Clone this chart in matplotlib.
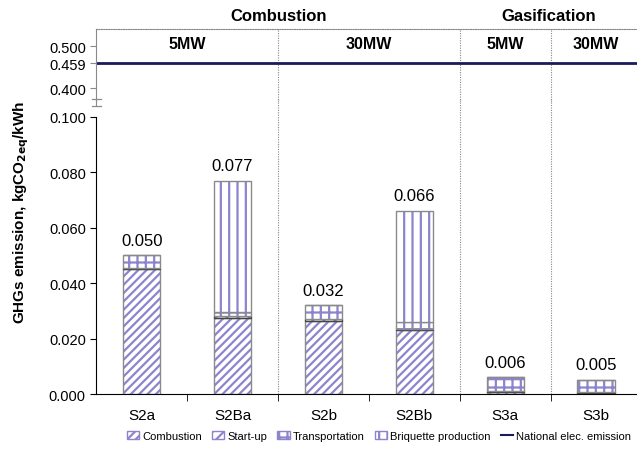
import numpy as np
import matplotlib
matplotlib.use("Agg")
import matplotlib.pyplot as plt
from matplotlib.patches import Patch
from matplotlib.lines import Line2D

# ==========================================================
# Data
# ==========================================================

scenarios = ["S2a", "S2Ba", "S2b", "S2Bb", "S3a", "S3b"]

combustion = [0.0450, 0.0275, 0.0265, 0.0230, 0.0008, 0.0005]
startup = [0.0005, 0.0005, 0.0005, 0.0005, 0.0002, 0.0002]
transport = [0.0045, 0.0015, 0.0050, 0.0025, 0.0050, 0.0043]
briquette = [0.0, 0.0475, 0.0, 0.0400, 0.0, 0.0]

totals = ["0.050", "0.077", "0.032", "0.066", "0.006", "0.005"]

national = 0.459
upper_ticks = [0.400, 0.459, 0.500]

groups = ["Combustion", "Gasification"]
capacities = ["5MW", "30MW", "5MW", "30MW"]

# ==========================================================
# Style
# ==========================================================

PURPLE = "#8c84cc"
EDGE = "#8a8a8a"
NAVY = "#1c1a5c"

plt.rcParams["font.family"] = ["Liberation Sans", "DejaVu Sans"]
plt.rcParams["hatch.linewidth"] = 1.6

fig = plt.figure(figsize=(6.37, 4.60), dpi=100)

ax = fig.add_axes([0.151, 0.1413, 0.849, 0.6022])
ax_up = fig.add_axes([0.151, 0.776, 0.849, 0.1588])

x = np.arange(len(scenarios))
w = 0.41

layers = [
    (combustion, "////"),
    (startup, "///"),
    (transport, "++"),
    (briquette, "||"),
]

bottom = np.zeros(len(x))
for vals, hatch in layers:
    vals = np.asarray(vals)
    ax.bar(x, vals, w, bottom=bottom, color="white",
           edgecolor=PURPLE, hatch=hatch, linewidth=0)
    ax.bar(x, vals, w, bottom=bottom, fill=False,
           edgecolor=EDGE if hatch != "///" else "#444444",
           linewidth=1.0)
    bottom = bottom + vals

for xi, top, txt in zip(x, bottom, totals):
    ax.text(xi, top + 0.0028, txt, ha="center", va="bottom", fontsize=12)

ax.set_xlim(-0.5, 5.45)
ax.set_ylim(0, 0.100)
ax.set_yticks(np.arange(0, 0.101, 0.02))
ax.set_yticklabels([f"{v:.3f}" for v in np.arange(0, 0.101, 0.02)])
ax.tick_params(axis="y", labelsize=10.5, length=4)
ax.set_xticks(x)
ax.set_xticklabels(scenarios, fontsize=11)
ax.tick_params(axis="x", length=0, pad=10)
ax.set_xticks([0.5, 1.5, 2.5, 3.5, 4.5], minor=True)
ax.tick_params(axis="x", which="minor", length=5)
ax.spines["top"].set_visible(False)
ax.spines["right"].set_visible(False)
ax.set_ylabel("GHGs emission, kgCO$_\\mathbf{2eq}$/kWh",
              fontsize=11, fontweight="bold")
ax.yaxis.set_label_coords(-0.12, 0.66)

for b in [1.5, 3.5, 4.5]:
    ax.axvline(b, 0, 1.06, color="#888888", linestyle=(0, (1, 1.2)),
               linewidth=0.8, clip_on=False)
    ax_up.axvline(b, color="#888888", linestyle=(0, (1, 1.2)),
                  linewidth=0.8)

# upper panel
ax_up.set_xlim(-0.5, 5.45)
ax_up.set_ylim(0.3667, 0.5405)
ax_up.axhline(national, color=NAVY, linewidth=2)
ax_up.set_yticks(upper_ticks)
ax_up.set_yticklabels([f"{v:.3f}" for v in upper_ticks])
ax_up.tick_params(axis="y", labelsize=10.5, length=4, color=EDGE)
ax_up.set_xticks([])
ax_up.spines["bottom"].set_visible(False)
ax_up.spines["right"].set_visible(False)
ax_up.spines["left"].set_color(EDGE)
ax_up.spines["top"].set_linestyle((0, (1, 1.2)))
ax_up.spines["top"].set_color("#888888")
ax_up.spines["top"].set_linewidth(0.8)
ax_up.patch.set_alpha(0)

for xc, lab in zip([0.5, 2.5, 4.0, 5.0], capacities):
    ax_up.text(xc, 0.505, lab, ha="center", va="center",
               fontsize=11.5, fontweight="bold")

fig.text(0.437, 0.965, groups[0], ha="center", va="center",
         fontsize=12, fontweight="bold")
fig.text(0.862, 0.965, groups[1], ha="center", va="center",
         fontsize=12, fontweight="bold")

# axis break marks
ax_up.spines["left"].set_bounds(0.3667 + 0.003, 0.5405)
for yy in [100, 107]:
    fy = 1 - yy / 460
    fig.add_artist(Line2D([0.144, 0.158], [fy, fy],
                          color=EDGE, linewidth=0.9))
fig.add_artist(Line2D([0.151, 0.151], [1 - 107 / 460, 1 - 100 / 460],
                      color=EDGE, linewidth=0.8))

handles = [
    Patch(facecolor="white", edgecolor=PURPLE, hatch="////", label="Combustion"),
    Patch(facecolor="white", edgecolor=PURPLE, hatch="///", label="Start-up"),
    Patch(facecolor="white", edgecolor=PURPLE, hatch="++", label="Transportation"),
    Patch(facecolor="white", edgecolor=PURPLE, hatch="||", label="Briquette production"),
    Line2D([0], [0], color=NAVY, linewidth=1.5, label="National elec. emission"),
]
fig.legend(handles=handles, loc="center right", bbox_to_anchor=(1.0, 0.05),
           ncol=5, frameon=False, fontsize=8, handlelength=1.1,
           handleheight=0.8, handletextpad=0.3, columnspacing=0.9,
           borderaxespad=0.1)

fig.savefig("out.png", dpi=100)
